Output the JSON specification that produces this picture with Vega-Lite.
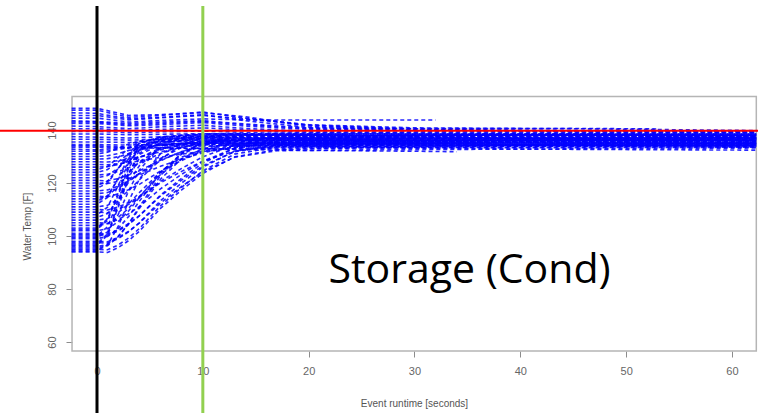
{
  "$schema": "https://vega.github.io/schema/vega-lite/v6.json",
  "width": 758,
  "height": 413,
  "padding": 0,
  "autosize": {"type": "none"},
  "background": "white",
  "config": {"view": {"stroke": null}},
  "datasets": {
    "box": [{"t": -2.36, "t2": 62.3, "v": 56.6, "v2": 152.6}],
    "series": [
      {"s":"c1","t":-2.4,"v":94},{"s":"c1","t":0,"v":94},{"s":"c1","t":1,"v":93.8},{"s":"c1","t":2,"v":95.6},{"s":"c1","t":3,"v":98.3},{"s":"c1","t":4,"v":101.8},{"s":"c1","t":6,"v":110.4},{"s":"c1","t":8,"v":117.4},{"s":"c1","t":10,"v":123.6},{"s":"c1","t":13,"v":129.9},{"s":"c1","t":17,"v":132.6},{"s":"c1","t":25,"v":133.3},{"s":"c1","t":40,"v":132.8},{"s":"c1","t":62.3,"v":133.2},
      {"s":"c2","t":-2.4,"v":95},{"s":"c2","t":0,"v":95},{"s":"c2","t":1,"v":94.8},{"s":"c2","t":2,"v":96.6},{"s":"c2","t":3,"v":99.3},{"s":"c2","t":4,"v":102.8},{"s":"c2","t":6,"v":111.4},{"s":"c2","t":8,"v":118.4},{"s":"c2","t":10,"v":124.6},{"s":"c2","t":13,"v":130.9},{"s":"c2","t":17,"v":133.6},{"s":"c2","t":25,"v":134.2},{"s":"c2","t":40,"v":133.8},{"s":"c2","t":62.3,"v":134.3},
      {"s":"c3","t":-2.4,"v":96},{"s":"c3","t":0,"v":96},{"s":"c3","t":1,"v":96.8},{"s":"c3","t":2,"v":99.9},{"s":"c3","t":3,"v":104.6},{"s":"c3","t":4,"v":110.4},{"s":"c3","t":6,"v":121.4},{"s":"c3","t":8,"v":129.2},{"s":"c3","t":10,"v":133},{"s":"c3","t":13,"v":135},{"s":"c3","t":17,"v":135.2},{"s":"c3","t":25,"v":134.8},{"s":"c3","t":40,"v":135.3},{"s":"c3","t":62.3,"v":135},
      {"s":"c4","t":-2.4,"v":97},{"s":"c4","t":0,"v":97},{"s":"c4","t":1,"v":100.9},{"s":"c4","t":2,"v":111.8},{"s":"c4","t":3,"v":123.5},{"s":"c4","t":4,"v":131.3},{"s":"c4","t":6,"v":135.2},{"s":"c4","t":8,"v":136},{"s":"c4","t":10,"v":136.3},{"s":"c4","t":13,"v":136},{"s":"c4","t":17,"v":135.8},{"s":"c4","t":25,"v":136.2},{"s":"c4","t":40,"v":135.9},{"s":"c4","t":62.3,"v":136.2},
      {"s":"c5","t":-2.4,"v":98},{"s":"c5","t":0,"v":98},{"s":"c5","t":1,"v":97.8},{"s":"c5","t":2,"v":99.4},{"s":"c5","t":3,"v":101.8},{"s":"c5","t":4,"v":104.9},{"s":"c5","t":6,"v":112.5},{"s":"c5","t":8,"v":118.7},{"s":"c5","t":10,"v":124.2},{"s":"c5","t":13,"v":129.7},{"s":"c5","t":17,"v":132.2},{"s":"c5","t":25,"v":132.5},{"s":"c5","t":40,"v":132.8},{"s":"c5","t":62.3,"v":132.4},
      {"s":"c6","t":-2.4,"v":99},{"s":"c6","t":0,"v":99},{"s":"c6","t":1,"v":99.8},{"s":"c6","t":2,"v":102.8},{"s":"c6","t":3,"v":107.4},{"s":"c6","t":4,"v":113.1},{"s":"c6","t":6,"v":123.7},{"s":"c6","t":8,"v":131.3},{"s":"c6","t":10,"v":135.1},{"s":"c6","t":13,"v":137},{"s":"c6","t":17,"v":137.2},{"s":"c6","t":25,"v":136.8},{"s":"c6","t":40,"v":137.1},{"s":"c6","t":62.3,"v":136.9},
      {"s":"c7","t":-2.4,"v":100},{"s":"c7","t":0,"v":100},{"s":"c7","t":1,"v":103.5},{"s":"c7","t":2,"v":113.3},{"s":"c7","t":3,"v":123.8},{"s":"c7","t":4,"v":130.8},{"s":"c7","t":6,"v":134.3},{"s":"c7","t":8,"v":135},{"s":"c7","t":10,"v":135.2},{"s":"c7","t":13,"v":134.9},{"s":"c7","t":17,"v":135.1},{"s":"c7","t":25,"v":135.3},{"s":"c7","t":40,"v":134.8},{"s":"c7","t":62.3,"v":135.1},
      {"s":"c8","t":-2.4,"v":101},{"s":"c8","t":0,"v":101},{"s":"c8","t":1,"v":100.8},{"s":"c8","t":2,"v":102.3},{"s":"c8","t":3,"v":104.7},{"s":"c8","t":4,"v":107.7},{"s":"c8","t":6,"v":115.1},{"s":"c8","t":8,"v":121.1},{"s":"c8","t":10,"v":126.5},{"s":"c8","t":13,"v":131.8},{"s":"c8","t":17,"v":134.2},{"s":"c8","t":25,"v":134.5},{"s":"c8","t":40,"v":134.2},{"s":"c8","t":62.3,"v":134.6},
      {"s":"c9","t":-2.4,"v":102},{"s":"c9","t":0,"v":102},{"s":"c9","t":1,"v":102.7},{"s":"c9","t":2,"v":105.4},{"s":"c9","t":3,"v":109.5},{"s":"c9","t":4,"v":114.6},{"s":"c9","t":6,"v":124.1},{"s":"c9","t":8,"v":130.9},{"s":"c9","t":10,"v":134.3},{"s":"c9","t":13,"v":136},{"s":"c9","t":17,"v":136.2},{"s":"c9","t":25,"v":135.8},{"s":"c9","t":40,"v":136.1},{"s":"c9","t":62.3,"v":135.9},
      {"s":"c10","t":-2.4,"v":103},{"s":"c10","t":0,"v":103},{"s":"c10","t":1,"v":106.5},{"s":"c10","t":2,"v":116.3},{"s":"c10","t":3,"v":126.8},{"s":"c10","t":4,"v":133.8},{"s":"c10","t":6,"v":137.3},{"s":"c10","t":8,"v":138},{"s":"c10","t":10,"v":138.2},{"s":"c10","t":13,"v":138.4},{"s":"c10","t":17,"v":138},{"s":"c10","t":25,"v":137.8},{"s":"c10","t":40,"v":138.1},{"s":"c10","t":62.3,"v":137.9},
      {"s":"c11","t":-2.4,"v":105},{"s":"c11","t":0,"v":105},{"s":"c11","t":1,"v":104.8},{"s":"c11","t":2,"v":106.2},{"s":"c11","t":3,"v":108.4},{"s":"c11","t":4,"v":111.1},{"s":"c11","t":6,"v":117.8},{"s":"c11","t":8,"v":123.3},{"s":"c11","t":10,"v":128.2},{"s":"c11","t":13,"v":133.1},{"s":"c11","t":17,"v":135.2},{"s":"c11","t":25,"v":135.5},{"s":"c11","t":40,"v":135.8},{"s":"c11","t":62.3,"v":135.4},
      {"s":"c12","t":-2.4,"v":106},{"s":"c12","t":0,"v":106},{"s":"c12","t":1,"v":106.6},{"s":"c12","t":2,"v":108.8},{"s":"c12","t":3,"v":112.2},{"s":"c12","t":4,"v":116.4},{"s":"c12","t":6,"v":124.2},{"s":"c12","t":8,"v":129.8},{"s":"c12","t":10,"v":132.6},{"s":"c12","t":13,"v":134},{"s":"c12","t":17,"v":134.2},{"s":"c12","t":25,"v":133.8},{"s":"c12","t":40,"v":134.1},{"s":"c12","t":62.3,"v":134},
      {"s":"c13","t":-2.4,"v":108},{"s":"c13","t":0,"v":108},{"s":"c13","t":1,"v":110.9},{"s":"c13","t":2,"v":119},{"s":"c13","t":3,"v":127.7},{"s":"c13","t":4,"v":133.5},{"s":"c13","t":6,"v":136.4},{"s":"c13","t":8,"v":137},{"s":"c13","t":10,"v":137.3},{"s":"c13","t":13,"v":137.1},{"s":"c13","t":17,"v":136.8},{"s":"c13","t":25,"v":137.2},{"s":"c13","t":40,"v":136.9},{"s":"c13","t":62.3,"v":137.1},
      {"s":"c14","t":-2.4,"v":109},{"s":"c14","t":0,"v":109},{"s":"c14","t":1,"v":108.8},{"s":"c14","t":2,"v":110.1},{"s":"c14","t":3,"v":112},{"s":"c14","t":4,"v":114.5},{"s":"c14","t":6,"v":120.6},{"s":"c14","t":8,"v":125.5},{"s":"c14","t":10,"v":129.9},{"s":"c14","t":13,"v":134.3},{"s":"c14","t":17,"v":136.2},{"s":"c14","t":25,"v":136.5},{"s":"c14","t":40,"v":136.2},{"s":"c14","t":62.3,"v":136.6},
      {"s":"c15","t":-2.4,"v":111},{"s":"c15","t":0,"v":111},{"s":"c15","t":1,"v":111.6},{"s":"c15","t":2,"v":113.8},{"s":"c15","t":3,"v":117.1},{"s":"c15","t":4,"v":121.2},{"s":"c15","t":6,"v":128.9},{"s":"c15","t":8,"v":134.4},{"s":"c15","t":10,"v":137.1},{"s":"c15","t":13,"v":138.5},{"s":"c15","t":17,"v":138.7},{"s":"c15","t":25,"v":138.3},{"s":"c15","t":40,"v":138.6},{"s":"c15","t":62.3,"v":138.4},
      {"s":"c16","t":-2.4,"v":113},{"s":"c16","t":0,"v":113},{"s":"c16","t":1,"v":115.2},{"s":"c16","t":2,"v":121.4},{"s":"c16","t":3,"v":128},{"s":"c16","t":4,"v":132.4},{"s":"c16","t":6,"v":134.6},{"s":"c16","t":8,"v":135},{"s":"c16","t":10,"v":135.2},{"s":"c16","t":13,"v":134.8},{"s":"c16","t":17,"v":135.1},{"s":"c16","t":25,"v":135},{"s":"c16","t":40,"v":134.7},{"s":"c16","t":62.3,"v":135.2},
      {"s":"c17","t":-2.4,"v":115},{"s":"c17","t":0,"v":115},{"s":"c17","t":1,"v":114.8},{"s":"c17","t":2,"v":115.9},{"s":"c17","t":3,"v":117.5},{"s":"c17","t":4,"v":119.5},{"s":"c17","t":6,"v":124.5},{"s":"c17","t":8,"v":128.5},{"s":"c17","t":10,"v":132.1},{"s":"c17","t":13,"v":135.7},{"s":"c17","t":17,"v":137.3},{"s":"c17","t":25,"v":137.5},{"s":"c17","t":40,"v":137.2},{"s":"c17","t":62.3,"v":137.6},
      {"s":"c18","t":-2.4,"v":117},{"s":"c18","t":0,"v":117},{"s":"c18","t":1,"v":117.4},{"s":"c18","t":2,"v":118.8},{"s":"c18","t":3,"v":120.9},{"s":"c18","t":4,"v":123.5},{"s":"c18","t":6,"v":128.4},{"s":"c18","t":8,"v":131.9},{"s":"c18","t":10,"v":133.6},{"s":"c18","t":13,"v":134.5},{"s":"c18","t":17,"v":134.3},{"s":"c18","t":25,"v":134.7},{"s":"c18","t":40,"v":134.4},{"s":"c18","t":62.3,"v":134.6},
      {"s":"c19","t":-2.4,"v":119},{"s":"c19","t":0,"v":119},{"s":"c19","t":1,"v":120.7},{"s":"c19","t":2,"v":125.5},{"s":"c19","t":3,"v":130.6},{"s":"c19","t":4,"v":134},{"s":"c19","t":6,"v":135.7},{"s":"c19","t":8,"v":136},{"s":"c19","t":10,"v":136.2},{"s":"c19","t":13,"v":135.9},{"s":"c19","t":17,"v":136.1},{"s":"c19","t":25,"v":135.8},{"s":"c19","t":40,"v":136.2},{"s":"c19","t":62.3,"v":136},
      {"s":"c20","t":-2.4,"v":121},{"s":"c20","t":0,"v":121},{"s":"c20","t":1,"v":120.8},{"s":"c20","t":2,"v":121.7},{"s":"c20","t":3,"v":123},{"s":"c20","t":4,"v":124.6},{"s":"c20","t":6,"v":128.6},{"s":"c20","t":8,"v":131.8},{"s":"c20","t":10,"v":134.7},{"s":"c20","t":13,"v":137.6},{"s":"c20","t":17,"v":138.8},{"s":"c20","t":25,"v":139},{"s":"c20","t":40,"v":138.7},{"s":"c20","t":62.3,"v":139.1},
      {"s":"c21","t":-2.4,"v":123},{"s":"c21","t":0,"v":123},{"s":"c21","t":1,"v":123.3},{"s":"c21","t":2,"v":124.3},{"s":"c21","t":3,"v":125.8},{"s":"c21","t":4,"v":127.6},{"s":"c21","t":6,"v":131.1},{"s":"c21","t":8,"v":133.6},{"s":"c21","t":10,"v":134.9},{"s":"c21","t":13,"v":135.5},{"s":"c21","t":17,"v":135.3},{"s":"c21","t":25,"v":135.7},{"s":"c21","t":40,"v":135.4},{"s":"c21","t":62.3,"v":135.6},
      {"s":"c22","t":-2.4,"v":125},{"s":"c22","t":0,"v":125},{"s":"c22","t":1,"v":126.2},{"s":"c22","t":2,"v":129.6},{"s":"c22","t":3,"v":133.2},{"s":"c22","t":4,"v":135.6},{"s":"c22","t":6,"v":136.8},{"s":"c22","t":8,"v":137},{"s":"c22","t":10,"v":137.2},{"s":"c22","t":13,"v":136.9},{"s":"c22","t":17,"v":137.1},{"s":"c22","t":25,"v":136.8},{"s":"c22","t":40,"v":137.2},{"s":"c22","t":62.3,"v":137},
      {"s":"c23","t":-2.4,"v":127},{"s":"c23","t":0,"v":127},{"s":"c23","t":1,"v":126.9},{"s":"c23","t":2,"v":127.3},{"s":"c23","t":3,"v":127.7},{"s":"c23","t":4,"v":128.3},{"s":"c23","t":6,"v":129.7},{"s":"c23","t":8,"v":130.9},{"s":"c23","t":10,"v":131.9},{"s":"c23","t":13,"v":133},{"s":"c23","t":17,"v":133.4},{"s":"c23","t":25,"v":133.6},{"s":"c23","t":40,"v":133.3},{"s":"c23","t":62.3,"v":133.5},
      {"s":"c24","t":-2.4,"v":129},{"s":"c24","t":0,"v":129},{"s":"c24","t":1,"v":129.2},{"s":"c24","t":2,"v":129.9},{"s":"c24","t":3,"v":131},{"s":"c24","t":4,"v":132.3},{"s":"c24","t":6,"v":134.9},{"s":"c24","t":8,"v":136.7},{"s":"c24","t":10,"v":137.6},{"s":"c24","t":13,"v":138},{"s":"c24","t":17,"v":138.2},{"s":"c24","t":25,"v":137.8},{"s":"c24","t":40,"v":138.1},{"s":"c24","t":62.3,"v":137.9},
      {"s":"c25","t":-2.4,"v":131},{"s":"c25","t":0,"v":131},{"s":"c25","t":1,"v":131.6},{"s":"c25","t":2,"v":133.1},{"s":"c25","t":3,"v":134.7},{"s":"c25","t":4,"v":135.8},{"s":"c25","t":6,"v":136.4},{"s":"c25","t":8,"v":136.5},{"s":"c25","t":10,"v":136.7},{"s":"c25","t":13,"v":136.4},{"s":"c25","t":17,"v":136.6},{"s":"c25","t":25,"v":136.3},{"s":"c25","t":40,"v":136.7},{"s":"c25","t":62.3,"v":136.5},
      {"s":"d1","t":-2.4,"v":94.5},{"s":"d1","t":0,"v":94.5},{"s":"d1","t":1,"v":96.6},{"s":"d1","t":2,"v":103.6},{"s":"d1","t":3,"v":113.2},{"s":"d1","t":4,"v":121.5},{"s":"d1","t":6,"v":131},{"s":"d1","t":8,"v":134.8},{"s":"d1","t":10,"v":136},{"s":"d1","t":13,"v":136.2},{"s":"d1","t":17,"v":135.8},{"s":"d1","t":25,"v":136.1},{"s":"d1","t":40,"v":135.9},{"s":"d1","t":62.3,"v":136.2},
      {"s":"d2","t":-2.4,"v":95.5},{"s":"d2","t":0,"v":95.5},{"s":"d2","t":1,"v":96.3},{"s":"d2","t":2,"v":99.7},{"s":"d2","t":3,"v":104.7},{"s":"d2","t":4,"v":111},{"s":"d2","t":6,"v":122.8},{"s":"d2","t":8,"v":131.2},{"s":"d2","t":10,"v":135.4},{"s":"d2","t":13,"v":137.5},{"s":"d2","t":17,"v":137.7},{"s":"d2","t":25,"v":137.3},{"s":"d2","t":40,"v":137.6},{"s":"d2","t":62.3,"v":137.4},
      {"s":"d3","t":-2.4,"v":96.5},{"s":"d3","t":0,"v":96.5},{"s":"d3","t":1,"v":100.3},{"s":"d3","t":2,"v":110.8},{"s":"d3","t":3,"v":122},{"s":"d3","t":4,"v":129.5},{"s":"d3","t":6,"v":133.3},{"s":"d3","t":8,"v":134},{"s":"d3","t":10,"v":134.2},{"s":"d3","t":13,"v":133.9},{"s":"d3","t":17,"v":134.1},{"s":"d3","t":25,"v":133.8},{"s":"d3","t":40,"v":134.2},{"s":"d3","t":62.3,"v":134},
      {"s":"d4","t":-2.4,"v":97.5},{"s":"d4","t":0,"v":97.5},{"s":"d4","t":1,"v":97.3},{"s":"d4","t":2,"v":99},{"s":"d4","t":3,"v":101.6},{"s":"d4","t":4,"v":105},{"s":"d4","t":6,"v":113.3},{"s":"d4","t":8,"v":120},{"s":"d4","t":10,"v":126},{"s":"d4","t":13,"v":132},{"s":"d4","t":17,"v":134.6},{"s":"d4","t":25,"v":135},{"s":"d4","t":40,"v":135.3},{"s":"d4","t":62.3,"v":134.9},
      {"s":"d5","t":-2.4,"v":99.5},{"s":"d5","t":0,"v":99.5},{"s":"d5","t":1,"v":101.5},{"s":"d5","t":2,"v":108.1},{"s":"d5","t":3,"v":117.1},{"s":"d5","t":4,"v":124.9},{"s":"d5","t":6,"v":133.8},{"s":"d5","t":8,"v":137.3},{"s":"d5","t":10,"v":138.5},{"s":"d5","t":13,"v":138.7},{"s":"d5","t":17,"v":138.3},{"s":"d5","t":25,"v":138.6},{"s":"d5","t":40,"v":138.2},{"s":"d5","t":62.3,"v":138.5},
      {"s":"d6","t":-2.4,"v":100.5},{"s":"d6","t":0,"v":100.5},{"s":"d6","t":1,"v":100.3},{"s":"d6","t":2,"v":101.9},{"s":"d6","t":3,"v":104.4},{"s":"d6","t":4,"v":107.6},{"s":"d6","t":6,"v":115.4},{"s":"d6","t":8,"v":121.8},{"s":"d6","t":10,"v":127.5},{"s":"d6","t":13,"v":133.2},{"s":"d6","t":17,"v":135.6},{"s":"d6","t":25,"v":136},{"s":"d6","t":40,"v":135.7},{"s":"d6","t":62.3,"v":136.1},
      {"s":"d7","t":-2.4,"v":102.5},{"s":"d7","t":0,"v":102.5},{"s":"d7","t":1,"v":105.9},{"s":"d7","t":2,"v":115.4},{"s":"d7","t":3,"v":125.6},{"s":"d7","t":4,"v":132.4},{"s":"d7","t":6,"v":135.8},{"s":"d7","t":8,"v":136.5},{"s":"d7","t":10,"v":136.7},{"s":"d7","t":13,"v":136.4},{"s":"d7","t":17,"v":136.6},{"s":"d7","t":25,"v":136.3},{"s":"d7","t":40,"v":136.6},{"s":"d7","t":62.3,"v":136.5},
      {"s":"d8","t":-2.4,"v":104},{"s":"d8","t":0,"v":104},{"s":"d8","t":1,"v":104.6},{"s":"d8","t":2,"v":107},{"s":"d8","t":3,"v":110.5},{"s":"d8","t":4,"v":114.9},{"s":"d8","t":6,"v":123.2},{"s":"d8","t":8,"v":129.1},{"s":"d8","t":10,"v":132},{"s":"d8","t":13,"v":133.5},{"s":"d8","t":17,"v":133.7},{"s":"d8","t":25,"v":133.4},{"s":"d8","t":40,"v":133.8},{"s":"d8","t":62.3,"v":133.5},
      {"s":"d9","t":-2.4,"v":107},{"s":"d9","t":0,"v":107},{"s":"d9","t":1,"v":108.5},{"s":"d9","t":2,"v":113.6},{"s":"d9","t":3,"v":120.5},{"s":"d9","t":4,"v":126.5},{"s":"d9","t":6,"v":133.4},{"s":"d9","t":8,"v":136.1},{"s":"d9","t":10,"v":137},{"s":"d9","t":13,"v":137.2},{"s":"d9","t":17,"v":136.9},{"s":"d9","t":25,"v":137.1},{"s":"d9","t":40,"v":136.8},{"s":"d9","t":62.3,"v":137},
      {"s":"d10","t":-2.4,"v":110},{"s":"d10","t":0,"v":110},{"s":"d10","t":1,"v":109.8},{"s":"d10","t":2,"v":111},{"s":"d10","t":3,"v":112.6},{"s":"d10","t":4,"v":114.8},{"s":"d10","t":6,"v":120.1},{"s":"d10","t":8,"v":124.4},{"s":"d10","t":10,"v":128.2},{"s":"d10","t":13,"v":132.1},{"s":"d10","t":17,"v":133.8},{"s":"d10","t":25,"v":134},{"s":"d10","t":40,"v":134.3},{"s":"d10","t":62.3,"v":133.9},
      {"s":"d11","t":-2.4,"v":112},{"s":"d11","t":0,"v":112},{"s":"d11","t":1,"v":114.6},{"s":"d11","t":2,"v":121.9},{"s":"d11","t":3,"v":129.7},{"s":"d11","t":4,"v":134.9},{"s":"d11","t":6,"v":137.5},{"s":"d11","t":8,"v":138},{"s":"d11","t":10,"v":138.2},{"s":"d11","t":13,"v":137.9},{"s":"d11","t":17,"v":138.1},{"s":"d11","t":25,"v":137.8},{"s":"d11","t":40,"v":138.1},{"s":"d11","t":62.3,"v":138},
      {"s":"d12","t":-2.4,"v":114},{"s":"d12","t":0,"v":114},{"s":"d12","t":1,"v":115.1},{"s":"d12","t":2,"v":118.7},{"s":"d12","t":3,"v":123.7},{"s":"d12","t":4,"v":128},{"s":"d12","t":6,"v":132.9},{"s":"d12","t":8,"v":134.9},{"s":"d12","t":10,"v":135.5},{"s":"d12","t":13,"v":135.7},{"s":"d12","t":17,"v":135.3},{"s":"d12","t":25,"v":135.6},{"s":"d12","t":40,"v":135.4},{"s":"d12","t":62.3,"v":135.6},
      {"s":"d13","t":-2.4,"v":116},{"s":"d13","t":0,"v":116},{"s":"d13","t":1,"v":116.4},{"s":"d13","t":2,"v":118.1},{"s":"d13","t":3,"v":120.5},{"s":"d13","t":4,"v":123.6},{"s":"d13","t":6,"v":129.3},{"s":"d13","t":8,"v":133.4},{"s":"d13","t":10,"v":135.5},{"s":"d13","t":13,"v":136.5},{"s":"d13","t":17,"v":136.7},{"s":"d13","t":25,"v":136.3},{"s":"d13","t":40,"v":136.6},{"s":"d13","t":62.3,"v":136.4},
      {"s":"d14","t":-2.4,"v":118},{"s":"d14","t":0,"v":118},{"s":"d14","t":1,"v":120},{"s":"d14","t":2,"v":125.4},{"s":"d14","t":3,"v":131.3},{"s":"d14","t":4,"v":135.2},{"s":"d14","t":6,"v":137.1},{"s":"d14","t":8,"v":137.5},{"s":"d14","t":10,"v":137.7},{"s":"d14","t":13,"v":137.4},{"s":"d14","t":17,"v":137.6},{"s":"d14","t":25,"v":137.3},{"s":"d14","t":40,"v":137.6},{"s":"d14","t":62.3,"v":137.5},
      {"s":"d15","t":-2.4,"v":120},{"s":"d15","t":0,"v":120},{"s":"d15","t":1,"v":119.8},{"s":"d15","t":2,"v":120.6},{"s":"d15","t":3,"v":121.7},{"s":"d15","t":4,"v":123},{"s":"d15","t":6,"v":126.3},{"s":"d15","t":8,"v":129},{"s":"d15","t":10,"v":131.4},{"s":"d15","t":13,"v":133.8},{"s":"d15","t":17,"v":134.9},{"s":"d15","t":25,"v":135},{"s":"d15","t":40,"v":135.2},{"s":"d15","t":62.3,"v":134.8},
      {"s":"d16","t":-2.4,"v":122},{"s":"d16","t":0,"v":122},{"s":"d16","t":1,"v":122.8},{"s":"d16","t":2,"v":125.6},{"s":"d16","t":3,"v":129.4},{"s":"d16","t":4,"v":132.7},{"s":"d16","t":6,"v":136.5},{"s":"d16","t":8,"v":138},{"s":"d16","t":10,"v":138.5},{"s":"d16","t":13,"v":138.6},{"s":"d16","t":17,"v":138.3},{"s":"d16","t":25,"v":138.5},{"s":"d16","t":40,"v":138.2},{"s":"d16","t":62.3,"v":138.4},
      {"s":"d17","t":-2.4,"v":124},{"s":"d17","t":0,"v":124},{"s":"d17","t":1,"v":125.1},{"s":"d17","t":2,"v":128},{"s":"d17","t":3,"v":131.1},{"s":"d17","t":4,"v":133.2},{"s":"d17","t":6,"v":134.3},{"s":"d17","t":8,"v":134.5},{"s":"d17","t":10,"v":134.7},{"s":"d17","t":13,"v":134.4},{"s":"d17","t":17,"v":134.6},{"s":"d17","t":25,"v":134.3},{"s":"d17","t":40,"v":134.6},{"s":"d17","t":62.3,"v":134.5},
      {"s":"d18","t":-2.4,"v":126},{"s":"d18","t":0,"v":126},{"s":"d18","t":1,"v":126.2},{"s":"d18","t":2,"v":127},{"s":"d18","t":3,"v":128.2},{"s":"d18","t":4,"v":129.7},{"s":"d18","t":6,"v":132.5},{"s":"d18","t":8,"v":134.5},{"s":"d18","t":10,"v":135.5},{"s":"d18","t":13,"v":136},{"s":"d18","t":17,"v":136.2},{"s":"d18","t":25,"v":135.8},{"s":"d18","t":40,"v":136.1},{"s":"d18","t":62.3,"v":135.9},
      {"s":"d19","t":-2.4,"v":128},{"s":"d19","t":0,"v":128},{"s":"d19","t":1,"v":127.9},{"s":"d19","t":2,"v":128.4},{"s":"d19","t":3,"v":129},{"s":"d19","t":4,"v":129.8},{"s":"d19","t":6,"v":131.8},{"s":"d19","t":8,"v":133.4},{"s":"d19","t":10,"v":134.8},{"s":"d19","t":13,"v":136.3},{"s":"d19","t":17,"v":136.9},{"s":"d19","t":25,"v":137},{"s":"d19","t":40,"v":136.7},{"s":"d19","t":62.3,"v":137.1},
      {"s":"d20","t":-2.4,"v":130},{"s":"d20","t":0,"v":130},{"s":"d20","t":1,"v":130.3},{"s":"d20","t":2,"v":131.1},{"s":"d20","t":3,"v":132.3},{"s":"d20","t":4,"v":133.3},{"s":"d20","t":6,"v":134.4},{"s":"d20","t":8,"v":134.9},{"s":"d20","t":10,"v":135},{"s":"d20","t":13,"v":135.2},{"s":"d20","t":17,"v":134.8},{"s":"d20","t":25,"v":135.1},{"s":"d20","t":40,"v":134.9},{"s":"d20","t":62.3,"v":135.1},
      {"s":"d21","t":-2.4,"v":132},{"s":"d21","t":0,"v":132},{"s":"d21","t":1,"v":132.1},{"s":"d21","t":2,"v":132.6},{"s":"d21","t":3,"v":133.3},{"s":"d21","t":4,"v":134.2},{"s":"d21","t":6,"v":135.9},{"s":"d21","t":8,"v":137.1},{"s":"d21","t":10,"v":137.7},{"s":"d21","t":13,"v":138},{"s":"d21","t":17,"v":138.2},{"s":"d21","t":25,"v":137.8},{"s":"d21","t":40,"v":138.1},{"s":"d21","t":62.3,"v":137.9},
      {"s":"h1","t":-2.4,"v":148.2},{"s":"h1","t":0,"v":148.2},{"s":"h1","t":3,"v":145.5},{"s":"h1","t":6,"v":145.8},{"s":"h1","t":10,"v":146.5},{"s":"h1","t":14,"v":145},{"s":"h1","t":20,"v":141.5},{"s":"h1","t":30,"v":140.2},{"s":"h1","t":45,"v":139.8},{"s":"h1","t":62.3,"v":139.5},
      {"s":"h2","t":-2.4,"v":147.5},{"s":"h2","t":0,"v":147.5},{"s":"h2","t":3,"v":144.8},{"s":"h2","t":6,"v":145.5},{"s":"h2","t":10,"v":146.8},{"s":"h2","t":14,"v":144.5},{"s":"h2","t":20,"v":142},{"s":"h2","t":30,"v":140.8},{"s":"h2","t":45,"v":140.5},{"s":"h2","t":62.3,"v":139.8},
      {"s":"h18","t":-2.4,"v":146.5},{"s":"h18","t":0,"v":146.3},{"s":"h18","t":3,"v":144.2},{"s":"h18","t":6,"v":144.8},{"s":"h18","t":10,"v":145.8},{"s":"h18","t":14,"v":143.5},{"s":"h18","t":20,"v":141},{"s":"h18","t":30,"v":139.9},{"s":"h18","t":45,"v":139.5},{"s":"h18","t":62.3,"v":139.4},
      {"s":"h3","t":-2.4,"v":145.5},{"s":"h3","t":0,"v":145.5},{"s":"h3","t":3,"v":143.8},{"s":"h3","t":6,"v":144.6},{"s":"h3","t":10,"v":145.5},{"s":"h3","t":14,"v":144.2},{"s":"h3","t":20,"v":141.8},{"s":"h3","t":30,"v":140.4},{"s":"h3","t":45,"v":139.6},{"s":"h3","t":62.3,"v":139.2},
      {"s":"h4","t":-2.4,"v":144.5},{"s":"h4","t":0,"v":144.5},{"s":"h4","t":3,"v":143},{"s":"h4","t":6,"v":143.6},{"s":"h4","t":10,"v":144.2},{"s":"h4","t":14,"v":143.8},{"s":"h4","t":20,"v":143.8},{"s":"h4","t":32,"v":143.8},
      {"s":"h19","t":-2.4,"v":143},{"s":"h19","t":0,"v":143},{"s":"h19","t":3,"v":142},{"s":"h19","t":6,"v":142.5},{"s":"h19","t":10,"v":143.2},{"s":"h19","t":14,"v":142},{"s":"h19","t":20,"v":140.5},{"s":"h19","t":30,"v":139.8},{"s":"h19","t":45,"v":139.7},{"s":"h19","t":62.3,"v":139.6},
      {"s":"h5","t":-2.4,"v":143.5},{"s":"h5","t":0,"v":143.2},{"s":"h5","t":3,"v":142.5},{"s":"h5","t":6,"v":143},{"s":"h5","t":10,"v":143.5},{"s":"h5","t":14,"v":142.3},{"s":"h5","t":20,"v":140.8},{"s":"h5","t":30,"v":140.5},{"s":"h5","t":45,"v":140.6},{"s":"h5","t":53,"v":140.4},
      {"s":"h6","t":-2.4,"v":142.5},{"s":"h6","t":0,"v":142.5},{"s":"h6","t":3,"v":141.6},{"s":"h6","t":6,"v":142},{"s":"h6","t":10,"v":142.8},{"s":"h6","t":14,"v":141.5},{"s":"h6","t":20,"v":140.2},{"s":"h6","t":30,"v":139.6},{"s":"h6","t":45,"v":139.4},{"s":"h6","t":62.3,"v":139.3},
      {"s":"h7","t":-2.4,"v":141.5},{"s":"h7","t":0,"v":141.3},{"s":"h7","t":3,"v":140.5},{"s":"h7","t":6,"v":141.2},{"s":"h7","t":10,"v":141.8},{"s":"h7","t":14,"v":140.6},{"s":"h7","t":20,"v":139.5},{"s":"h7","t":30,"v":139.1},{"s":"h7","t":45,"v":138.9},{"s":"h7","t":62.3,"v":139},
      {"s":"h8","t":-2.4,"v":140.5},{"s":"h8","t":0,"v":140.5},{"s":"h8","t":3,"v":139.8},{"s":"h8","t":6,"v":140.2},{"s":"h8","t":10,"v":140.8},{"s":"h8","t":14,"v":140},{"s":"h8","t":20,"v":139},{"s":"h8","t":30,"v":138.6},{"s":"h8","t":45,"v":138.5},{"s":"h8","t":62.3,"v":138.7},
      {"s":"h9","t":-2.4,"v":139.5},{"s":"h9","t":0,"v":139.5},{"s":"h9","t":3,"v":139},{"s":"h9","t":6,"v":139.3},{"s":"h9","t":10,"v":139.6},{"s":"h9","t":14,"v":139.1},{"s":"h9","t":20,"v":138.4},{"s":"h9","t":30,"v":138},{"s":"h9","t":45,"v":138.2},{"s":"h9","t":62.3,"v":138.1},
      {"s":"h10","t":-2.4,"v":138.5},{"s":"h10","t":0,"v":138.5},{"s":"h10","t":3,"v":138.2},{"s":"h10","t":6,"v":138.4},{"s":"h10","t":10,"v":138.6},{"s":"h10","t":14,"v":138.2},{"s":"h10","t":20,"v":137.6},{"s":"h10","t":30,"v":137.5},{"s":"h10","t":45,"v":137.3},{"s":"h10","t":62.3,"v":137.6},
      {"s":"h11","t":-2.4,"v":137.5},{"s":"h11","t":0,"v":137.3},{"s":"h11","t":3,"v":137},{"s":"h11","t":6,"v":137.4},{"s":"h11","t":10,"v":137.6},{"s":"h11","t":14,"v":137.1},{"s":"h11","t":20,"v":136.8},{"s":"h11","t":30,"v":136.9},{"s":"h11","t":45,"v":136.7},{"s":"h11","t":62.3,"v":136.8},
      {"s":"h12","t":-2.4,"v":136.5},{"s":"h12","t":0,"v":136.5},{"s":"h12","t":3,"v":136.2},{"s":"h12","t":6,"v":136.5},{"s":"h12","t":10,"v":136.8},{"s":"h12","t":14,"v":136.4},{"s":"h12","t":20,"v":136.2},{"s":"h12","t":30,"v":136},{"s":"h12","t":45,"v":136.3},{"s":"h12","t":62.3,"v":136.1},
      {"s":"h13","t":-2.4,"v":135.5},{"s":"h13","t":0,"v":135.5},{"s":"h13","t":3,"v":135.3},{"s":"h13","t":6,"v":135.6},{"s":"h13","t":10,"v":135.8},{"s":"h13","t":14,"v":135.4},{"s":"h13","t":20,"v":135.5},{"s":"h13","t":30,"v":135.2},{"s":"h13","t":45,"v":135.6},{"s":"h13","t":62.3,"v":135.3},
      {"s":"h14","t":-2.4,"v":134.5},{"s":"h14","t":0,"v":134.5},{"s":"h14","t":3,"v":134.3},{"s":"h14","t":6,"v":134.6},{"s":"h14","t":10,"v":134.5},{"s":"h14","t":14,"v":134.2},{"s":"h14","t":20,"v":134.4},{"s":"h14","t":30,"v":134.6},{"s":"h14","t":45,"v":134.3},{"s":"h14","t":62.3,"v":134.5},
      {"s":"h15","t":-2.4,"v":133.5},{"s":"h15","t":0,"v":133.5},{"s":"h15","t":3,"v":133.3},{"s":"h15","t":6,"v":133.2},{"s":"h15","t":10,"v":133},{"s":"h15","t":14,"v":132.8},{"s":"h15","t":20,"v":133.1},{"s":"h15","t":30,"v":133.3},{"s":"h15","t":45,"v":133.6},{"s":"h15","t":62.3,"v":133.8},
      {"s":"h16","t":-2.4,"v":134},{"s":"h16","t":0,"v":134},{"s":"h16","t":3,"v":133.6},{"s":"h16","t":6,"v":133.2},{"s":"h16","t":10,"v":133},{"s":"h16","t":14,"v":132.6},{"s":"h16","t":20,"v":132.3},{"s":"h16","t":30,"v":132},{"s":"h16","t":34,"v":131.8},
      {"s":"h17","t":-2.4,"v":132.8},{"s":"h17","t":0,"v":132.5},{"s":"h17","t":3,"v":133.4},{"s":"h17","t":6,"v":134.2},{"s":"h17","t":10,"v":135},{"s":"h17","t":14,"v":134.8},{"s":"h17","t":20,"v":134.6},{"s":"h17","t":30,"v":134.3},{"s":"h17","t":45,"v":134.5},{"s":"h17","t":62.3,"v":134.2}
    ],
    "hline": [{"v": 139.7}],
    "vlines": [
      {"name": "start", "t": 0, "v": 186.8, "v2": 33.2},
      {"name": "ten", "t": 10, "v": 186.8, "v2": 33.2}
    ],
    "label": [{"t": 35.2, "v": 82.3, "text": "Storage (Cond)"}]
  },
  "layer": [
    {
      "data": {"name": "box"},
      "mark": {"type": "rect", "fill": null, "stroke": "#b5b5b5", "strokeWidth": 1.5},
      "encoding": {
        "x": {
          "field": "t", "type": "quantitative",
          "scale": {"domain": [-9.166, 62.46], "nice": false, "zero": false},
          "axis": {
            "orient": "bottom", "offset": -62, "values": [0, 10, 20, 30, 40, 50, 60],
            "domain": false, "grid": false, "tickSize": 6, "tickColor": "#8c8c8c", "tickWidth": 1,
            "labelFont": "Liberation Sans", "labelFontSize": 11, "labelColor": "#666666", "labelPadding": 8,
            "title": "Event runtime [seconds]", "titleFont": "Liberation Sans", "titleFontSize": 10,
            "titleFontWeight": "normal", "titleColor": "#555555", "titleX": 414, "titleY": 52,
            "titleBaseline": "middle", "titleAnchor": "middle"
          }
        },
        "x2": {"field": "t2"},
        "y": {
          "field": "v", "type": "quantitative",
          "scale": {"domain": [33.21, 189.06], "nice": false, "zero": false},
          "axis": {
            "orient": "left", "offset": -72, "values": [60, 80, 100, 120, 140],
            "domain": false, "grid": false, "tickSize": 6, "tickColor": "#8c8c8c", "tickWidth": 1,
            "labelFont": "Liberation Sans", "labelFontSize": 11, "labelColor": "#666666",
            "labelAngle": 270, "labelAlign": "center", "labelBaseline": "bottom", "labelPadding": 9,
            "title": "Water Temp [F]", "titleFont": "Liberation Sans", "titleFontSize": 10,
            "titleFontWeight": "normal", "titleColor": "#555555", "titleX": -45, "titleY": 226,
            "titleBaseline": "middle", "titleAnchor": "middle", "titleAngle": 270
          }
        },
        "y2": {"field": "v2"}
      }
    },
    {
      "data": {"name": "series"},
      "mark": {"type": "line", "stroke": "#0000ff", "strokeWidth": 1.6, "strokeDash": [4, 3], "opacity": 0.85},
      "encoding": {
        "x": {"field": "t", "type": "quantitative"},
        "y": {"field": "v", "type": "quantitative"},
        "detail": {"field": "s"}
      }
    },
    {
      "data": {"name": "hline"},
      "mark": {"type": "rule", "color": "#ff0000", "strokeWidth": 2},
      "encoding": {"y": {"field": "v", "type": "quantitative"}}
    },
    {
      "data": {"name": "vlines"},
      "mark": {"type": "rule", "strokeWidth": 3},
      "encoding": {
        "x": {"field": "t", "type": "quantitative"},
        "y": {"field": "v", "type": "quantitative"},
        "y2": {"field": "v2"},
        "color": {"field": "name", "type": "nominal", "scale": {"domain": ["start", "ten"], "range": ["#000000", "#92d050"]}, "legend": null}
      }
    },
    {
      "data": {"name": "label"},
      "mark": {"type": "text", "font": "Open Sans", "fontSize": 41, "color": "#000000", "align": "center", "baseline": "alphabetic"},
      "encoding": {
        "x": {"field": "t", "type": "quantitative"},
        "y": {"field": "v", "type": "quantitative"},
        "text": {"field": "text"}
      }
    }
  ]
}
